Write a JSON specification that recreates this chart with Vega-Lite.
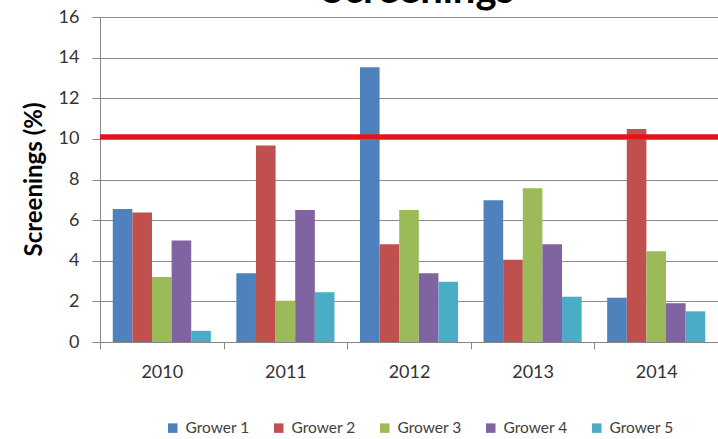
{
  "$schema": "https://vega.github.io/schema/vega-lite/v6.json",
  "autosize": "none",
  "padding": {"left": 100, "top": 17, "right": 0, "bottom": 97},
  "width": 618,
  "height": 325,
  "background": "white",
  "title": {
    "text": "Screenings",
    "font": "Lato",
    "fontSize": 40,
    "fontWeight": "bold",
    "color": "black",
    "anchor": "middle",
    "frame": "group",
    "baseline": "alphabetic",
    "offset": 0,
    "dx": 9,
    "dy": 35
  },
  "data": {
    "values": [
      {"Year": "2010", "Grower": "Grower 1", "Screenings": 6.55},
      {"Year": "2010", "Grower": "Grower 2", "Screenings": 6.37},
      {"Year": "2010", "Grower": "Grower 3", "Screenings": 3.2},
      {"Year": "2010", "Grower": "Grower 4", "Screenings": 5.0},
      {"Year": "2010", "Grower": "Grower 5", "Screenings": 0.55},
      {"Year": "2011", "Grower": "Grower 1", "Screenings": 3.38},
      {"Year": "2011", "Grower": "Grower 2", "Screenings": 9.67},
      {"Year": "2011", "Grower": "Grower 3", "Screenings": 2.03},
      {"Year": "2011", "Grower": "Grower 4", "Screenings": 6.5},
      {"Year": "2011", "Grower": "Grower 5", "Screenings": 2.45},
      {"Year": "2012", "Grower": "Grower 1", "Screenings": 13.53},
      {"Year": "2012", "Grower": "Grower 2", "Screenings": 4.81},
      {"Year": "2012", "Grower": "Grower 3", "Screenings": 6.5},
      {"Year": "2012", "Grower": "Grower 4", "Screenings": 3.38},
      {"Year": "2012", "Grower": "Grower 5", "Screenings": 2.97},
      {"Year": "2013", "Grower": "Grower 1", "Screenings": 6.98},
      {"Year": "2013", "Grower": "Grower 2", "Screenings": 4.05},
      {"Year": "2013", "Grower": "Grower 3", "Screenings": 7.57},
      {"Year": "2013", "Grower": "Grower 4", "Screenings": 4.81},
      {"Year": "2013", "Grower": "Grower 5", "Screenings": 2.23},
      {"Year": "2014", "Grower": "Grower 1", "Screenings": 2.18},
      {"Year": "2014", "Grower": "Grower 2", "Screenings": 10.49},
      {"Year": "2014", "Grower": "Grower 3", "Screenings": 4.47},
      {"Year": "2014", "Grower": "Grower 4", "Screenings": 1.91},
      {"Year": "2014", "Grower": "Grower 5", "Screenings": 1.51}
    ]
  },
  "layer": [
    {
      "mark": {"type": "bar"},
      "encoding": {
        "x": {
          "field": "Year",
          "type": "nominal",
          "scale": {"paddingInner": 0, "paddingOuter": 0},
          "axis": {
            "title": null,
            "labelAngle": 0,
            "labelFont": "Lato",
            "labelFontSize": 18,
            "labelColor": "#333333",
            "labelPadding": 14,
            "tickBand": "extent",
            "tickSize": 7,
            "tickColor": "#868686",
            "domainColor": "#868686",
            "grid": false
          }
        },
        "xOffset": {
          "field": "Grower",
          "type": "nominal",
          "scale": {"paddingInner": 0, "paddingOuter": 0.65}
        },
        "y": {
          "field": "Screenings",
          "type": "quantitative",
          "scale": {"domain": [0, 16], "nice": false},
          "axis": {
            "values": [0, 2, 4, 6, 8, 10, 12, 14, 16],
            "title": "Screenings (%)",
            "titleFont": "Lato",
            "titleFontSize": 24,
            "titleFontWeight": "bold",
            "titleColor": "black",
            "titleAngle": 270,
            "titleBaseline": "middle",
            "titleX": -66,
            "titleY": 162,
            "labelFont": "Lato",
            "labelFontSize": 18,
            "labelColor": "#333333",
            "labelPadding": 13,
            "tickSize": 8,
            "tickColor": "#868686",
            "domainColor": "#868686",
            "grid": true,
            "gridColor": "#8c8c8c",
            "gridWidth": 1
          }
        },
        "color": {
          "field": "Grower",
          "type": "nominal",
          "scale": {
            "domain": ["Grower 1", "Grower 2", "Grower 3", "Grower 4", "Grower 5"],
            "range": ["#4F81BD", "#C0504D", "#9BBB59", "#8064A2", "#4BACC6"]
          },
          "legend": {
            "title": null,
            "orient": "none",
            "direction": "horizontal",
            "columns": 5,
            "legendX": 65,
            "legendY": 403,
            "symbolType": "square",
            "symbolSize": 90,
            "symbolStrokeWidth": 0,
            "labelFont": "Lato",
            "labelFontSize": 15.5,
            "labelColor": "#404040",
            "labelOffset": 5,
            "columnPadding": 21
          }
        }
      }
    },
    {
      "data": {"values": [{"Threshold": 10.1}]},
      "mark": {"type": "rule", "color": "#E3151A", "strokeWidth": 5},
      "encoding": {
        "y": {"field": "Threshold", "type": "quantitative"}
      }
    }
  ],
  "config": {
    "view": {"stroke": null},
    "font": "Lato"
  }
}
